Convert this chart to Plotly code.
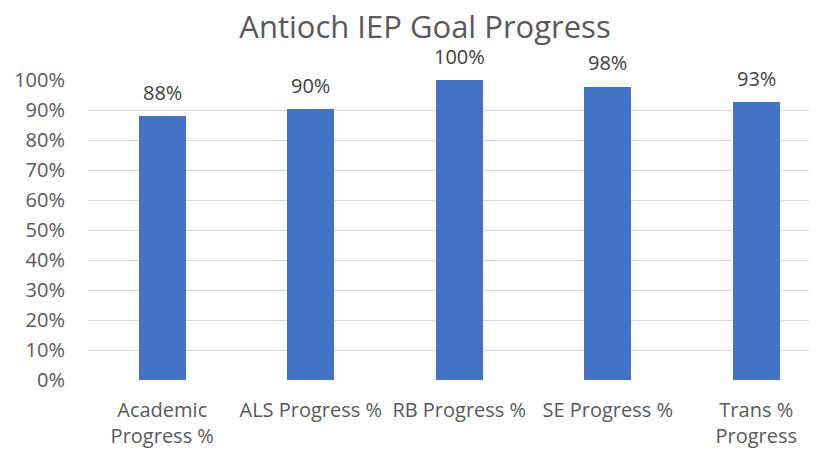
import plotly.graph_objects as go

categories = ["Academic<br>Progress %", "ALS Progress %", "RB Progress %", "SE Progress %", "Trans %<br>Progress"]
values = [0.88, 0.903, 1.0, 0.977, 0.926]
tick_vals = [0, 0.1, 0.2, 0.3, 0.4, 0.5, 0.6, 0.7, 0.8, 0.9, 1.0]
tick_text = ["0%", "10%", "20%", "30%", "40%", "50%", "60%", "70%", "80%", "90%", "100%"]
labels = [f"{round(v*100)}%" for v in values]

FONT = "Open Sans, Lato, sans-serif"
xs = list(range(len(categories)))

fig = go.Figure(go.Bar(
    x=xs,
    y=values,
    width=0.3165,
    marker=dict(color="#4472C4", line=dict(width=0)),
    hoverinfo="skip",
))

for x, v, t in zip(xs, values, labels):
    fig.add_annotation(x=x, y=v, text=t, showarrow=False, yanchor="middle",
                       yshift=24, font=dict(family=FONT, size=20, color="#404040"))

fig.update_layout(
    width=817, height=451,
    margin=dict(l=80, r=0, t=72, b=79, autoexpand=False),
    paper_bgcolor="white", plot_bgcolor="white",
    title=dict(text="Antioch IEP Goal Progress", x=417/817, xanchor="center",
               y=1 - 19/451, yanchor="middle",
               font=dict(family=FONT, size=31, color="#595959")),
    showlegend=False,
    bargap=0,
)
fig.update_xaxes(
    tickmode="array", tickvals=xs, ticktext=categories,
    range=[-0.5, 4.463], showgrid=False, zeroline=False, showline=False,
    ticks="", automargin=False, ticklabelstandoff=16,
    tickfont=dict(family=FONT, size=20, color="#595959"),
)
fig.update_yaxes(
    range=[0, 1], tickmode="array", tickvals=tick_vals, ticktext=tick_text,
    showgrid=True, gridcolor="#D9D9D9", gridwidth=1, zeroline=False,
    showline=False, ticks="", automargin=False, ticklabelstandoff=22,
    tickfont=dict(family=FONT, size=20, color="#595959"),
)

fig.write_html("out.html")
